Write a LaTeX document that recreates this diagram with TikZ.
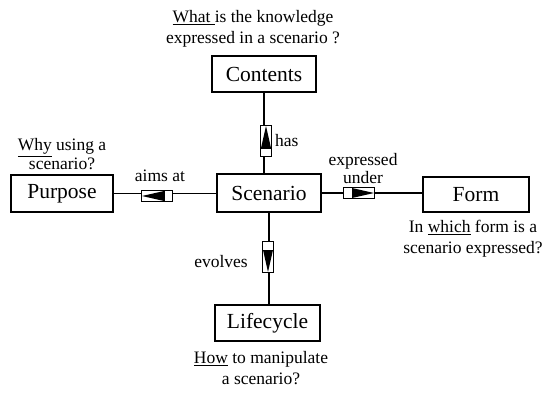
\documentclass[tikz,border=0pt]{standalone}
\usepackage{fontspec}
\setmainfont{Liberation Serif}
\begin{document}
\begin{tikzpicture}[x=1pt,y=1pt,
  box/.style={draw,line width=1.4pt,inner sep=0pt,font=\fontsize{21.5}{24}\selectfont},
  lbl/.style={inner sep=0pt,align=center,font=\fontsize{17.5}{21}\selectfont},
  conn/.style={line width=1.2pt},
  marker/.pic={
    \draw[line width=1pt,fill=white] (-15.5,-5.5) rectangle (15.5,5.5);
    \draw[line width=1pt] (-7,-5.5) -- (-7,5.5);
    \fill (-7,-5) -- (-7,5) -- (15,0) -- cycle;
  }]
\useasboundingbox (0,0) rectangle (549,-392);
% boxes
\node[box,minimum width=104pt,minimum height=36pt] (contents) at (264,-74) {Contents};
\node[box,minimum width=104pt,minimum height=38pt] (scenario) at (269,-193) {Scenario};
\node[box,minimum width=102pt,minimum height=37pt] (purpose) at (62,-193.5) {Purpose};
\node[box,minimum width=106pt,minimum height=35pt] (form) at (476,-194.5) {Form};
\node[box,minimum width=105pt,minimum height=36pt] (lifecycle) at (267.5,-323) {Lifecycle};
% connectors
\draw[conn] (contents.south) -- (contents.south |- scenario.north);
\draw[conn] (scenario.south) -- (scenario.south |- lifecycle.north);
\draw[conn] (purpose.east) -- (purpose.east -| scenario.west);
\draw[conn] (scenario.east) -- (scenario.east -| form.west);
% markers
\pic[rotate=90] at (266,-141) {marker};
\pic[rotate=-90] at (268,-257) {marker};
\pic[rotate=180] at (157,-196) {marker};
\pic at (359,-193) {marker};
% labels
\node[lbl] (qc) at (253,-29) {\underline{What }is the knowledge\\expressed in a scenario ?};
\node[lbl,font=\fontsize{17.5}{19}\selectfont] (qp) at (62,-154.5) {\underline{Why} using a\\scenario?};
\node[lbl] (qf) at (473,-238.5) {In \underline{which} form is a\\scenario expressed?};
\node[lbl] (ql) at (261,-368.5) {\underline{How} to manipulate\\a scenario?};
\node[lbl,anchor=west] (lhas) at (275,-141) {has};
\node[lbl,anchor=east] (lev) at (248,-262) {evolves};
\node[lbl] (laims) at (160,-176) {aims at};
\node[lbl,font=\fontsize{17.5}{18}\selectfont] (lexp) at (363,-169) {expressed\\under};
\end{tikzpicture}
\end{document}
